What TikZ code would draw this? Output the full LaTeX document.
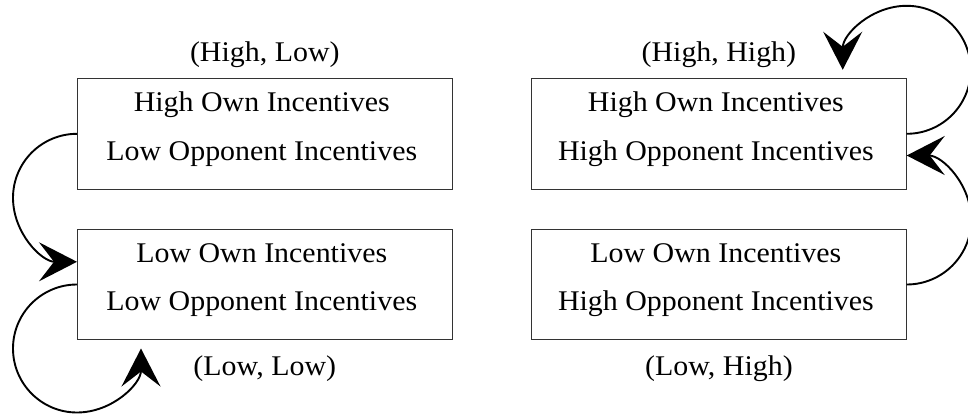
\documentclass[tikz,border=0pt]{standalone}
\usepackage{fontspec}
\setmainfont{Liberation Serif}[FakeStretch=1.05]
\usetikzlibrary{arrows.meta}
\begin{document}
\begin{tikzpicture}[x=1pt,y=-1pt,
  statebox/.style={draw=black!80, line width=1.1pt, minimum width=374.5pt, minimum height=110.5pt, inner sep=0pt},
  txt/.style={anchor=base, inner sep=0pt, font=\fontsize{28.5}{34}\selectfont},
  arr/.style={line width=1.9pt, -{Stealth[length=38pt, width=39pt, inset=15pt]}}]
\useasboundingbox (0,0) rectangle (968,417);
% boxes
\node[statebox] (hl) at (264.8,133.8) {};
\node[statebox] (ll) at (264.8,284.5) {};
\node[statebox] (hh) at (718.9,133.8) {};
\node[statebox] (lh) at (718.9,284.5) {};
% box texts
\node[txt] (hl1) at ([shift={(-3,34)}]hl.north) {High Own Incentives};
\node[txt] (hl2) at ([shift={(-3,82)}]hl.north) {Low Opponent Incentives};
\node[txt] (ll1) at ([shift={(-3,34)}]ll.north) {Low Own Incentives};
\node[txt] (ll2) at ([shift={(-3,82)}]ll.north) {Low Opponent Incentives};
\node[txt] (hh1) at ([shift={(-3,34)}]hh.north) {High Own Incentives};
\node[txt] (hh2) at ([shift={(-3,82)}]hh.north) {High Opponent Incentives};
\node[txt] (lh1) at ([shift={(-3,34)}]lh.north) {Low Own Incentives};
\node[txt] (lh2) at ([shift={(-3,82)}]lh.north) {High Opponent Incentives};
% state labels
\node[txt] (hlL) at ([shift={(0,-16)}]hl.north) {(High, Low)};
\node[txt] (hhL) at ([shift={(0,-16)}]hh.north) {(High, High)};
\node[txt] (llL) at ([shift={(0,35)}]ll.south) {(Low, Low)};
\node[txt] (lhL) at ([shift={(0,35)}]lh.south) {(Low, High)};
% transitions
\draw[arr] (hl.west) arc[start angle=-90, end angle=-270, radius=64];
\draw[arr] (ll.west) arc[start angle=-90, end angle=-360, radius=64];
\draw[arr] (hh.east) arc[start angle=90, end angle=-180, radius=64];
\draw[arr] (lh.east) arc[start angle=90, end angle=-90, radius=64.5];
\end{tikzpicture}
\end{document}
